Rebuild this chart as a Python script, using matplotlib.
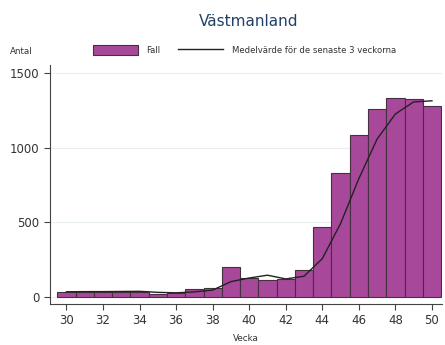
#!/usr/bin/env python
# -*- coding: utf-8 -*-
"""Weekly cases for Västmanland with a 3-week mean."""
import numpy as np
import matplotlib
matplotlib.use("Agg")
import matplotlib.pyplot as plt

weeks = list(range(30, 51))
cases = [35, 35, 35, 35, 35, 22, 29, 51, 58, 199, 125, 114, 123, 181,
         467, 828, 1085, 1259, 1333, 1328, 1281]
mean_3w = [35, 36, 36, 37, 38, 31, 28, 34, 46, 103, 127, 146, 121, 139,
           257, 492, 793, 1058, 1226, 1307, 1314]
x_ticks = list(range(30, 51, 2))
y_ticks = [0, 500, 1000, 1500]

BAR_COLOR = "#a8489a"
EDGE_COLOR = "#45303f"
TEXT_COLOR = "#333333"

fig = plt.figure(figsize=(4.45, 3.45), dpi=100)
ax = fig.add_axes([50 / 445, 1 - 304 / 345, 392 / 445, 239 / 345])

bars = ax.bar(weeks, cases, width=1.0, color=BAR_COLOR, edgecolor=EDGE_COLOR,
              linewidth=0.8, zorder=2)
line, = ax.plot(weeks, mean_3w, color="#222222", linewidth=1.0, zorder=3)

ax.set_xlim(29.1, 50.55)
ax.set_ylim(-47, 1554)
ax.set_xticks(x_ticks)
ax.set_yticks(y_ticks)
ax.grid(axis="y", color="#e6eef2", linewidth=0.8, zorder=0)
ax.tick_params(axis="both", direction="out", length=4, width=0.8,
               colors="#444444", labelcolor=TEXT_COLOR, labelsize=8.5)
for side in ("top", "right"):
    ax.spines[side].set_visible(False)
for side in ("left", "bottom"):
    ax.spines[side].set_color("#444444")
    ax.spines[side].set_linewidth(0.8)

ax.set_xlabel("Vecka", fontsize=6.3, color=TEXT_COLOR, labelpad=5)
fig.text(10 / 445, 1 - 51 / 345, "Antal", fontsize=6.3, color=TEXT_COLOR,
         va="center", ha="left")
fig.text(249 / 445, 1 - 21 / 345, "Västmanland", fontsize=11,
         color="#22416a", ha="center", va="center")

leg = fig.legend([bars, line], ["Fall", "Medelvärde för de senaste 3 veckorna"],
                 loc="center left", bbox_to_anchor=(85 / 445, 1 - 50 / 345),
                 ncol=2, frameon=False, fontsize=6.1, handlelength=5.3,
                 handleheight=1.5, columnspacing=2.1, handletextpad=1.05,
                 labelcolor=TEXT_COLOR)

fig.savefig("out.png", dpi=100)
